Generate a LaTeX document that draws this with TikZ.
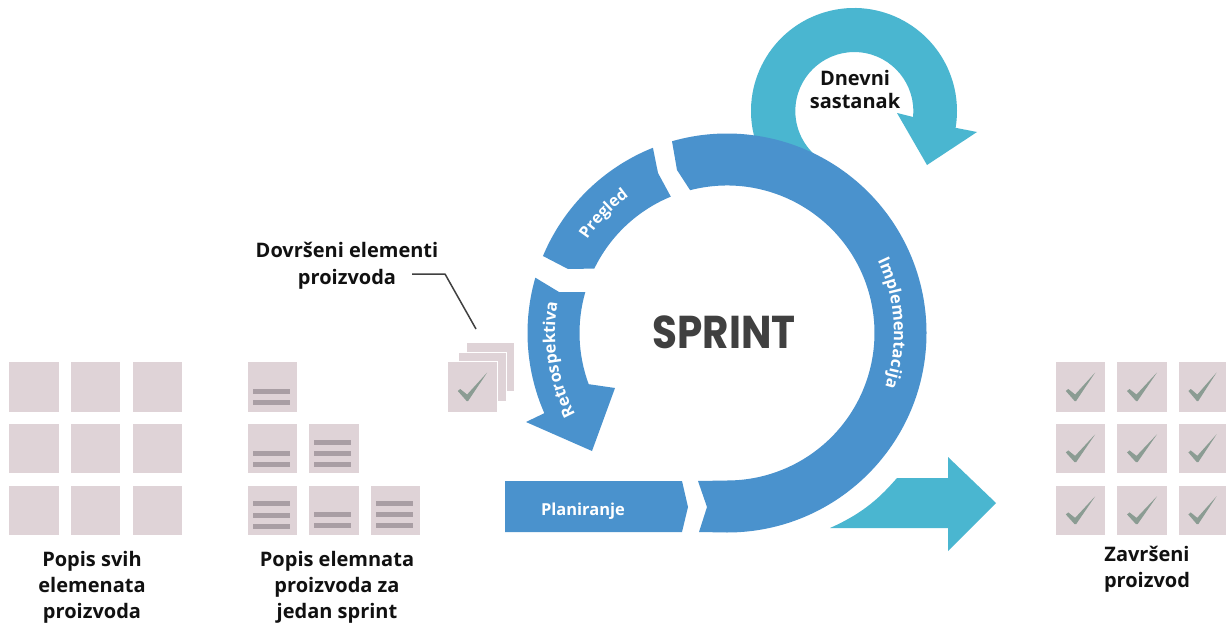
\documentclass[tikz,border=0pt]{standalone}
\usepackage{fontspec}
\setmainfont{Open Sans}
\newfontfamily\titlefont[FakeStretch=0.88]{Poppins}
\usetikzlibrary{decorations.text}
\definecolor{cardc}{HTML}{DFD3D7}
\definecolor{barc}{HTML}{A99EA4}
\definecolor{checkc}{HTML}{8B9C93}
\definecolor{bandc}{HTML}{4A92CD}
\definecolor{tealc}{HTML}{4AB6D0}
\definecolor{inkc}{HTML}{111111}
\tikzset{
  x=1pt,y=-1pt,
  lbl/.style={align=center,text=inkc,font=\fontsize{20}{26}\selectfont\bfseries,inner sep=0pt},
  bandfill/.style={fill=bandc},
  tealfill/.style={fill=tealc},
  cardfill/.style={fill=cardc},
  barfill/.style={fill=barc},
  leader/.style={draw=black!75,line width=1.5pt,line join=round},
}
\newcommand{\card}[4]{\fill[cardfill] (#1,#2) rectangle ++(#3,#4);}
\newcommand{\chk}[4]{\fill[cardfill] (#1,#2) rectangle ++(#3,#4);
  \fill[checkc,shift={(#1,#2)}] (0.2*#3,0.58*#4) -- (0.25*#3,0.54*#4) -- (0.39*#3,0.65*#4)
     -- (0.8*#3,0.21*#4) -- (0.41*#3,0.78*#4) -- (0.38*#3,0.78*#4) -- cycle;}
\newcommand{\barr}[2]{\fill[barfill] (#1+5,#2) rectangle ++(37,5);}
\begin{document}
\begin{tikzpicture}
\useasboundingbox (0,0) rectangle (1226,623);
\fill[white] (0,0) rectangle (1226,623);
\coordinate (C) at (727,333);
\coordinate (T) at (854,111);

% daily loop arrow
\fill[tealfill] ([shift={(-196:103)}]T) arc[start angle=-196,end angle=9.4,radius=103]
  -- (977,132) -- (927,165) -- (897,113) -- (913,117)
  arc[start angle=5.8,end angle=-230,radius=59] -- cycle;

% output arrow
\fill[tealfill] (830,528) .. controls (866,512) and (882,495) .. (897,478) -- (948,478) -- (948,457)
  -- (996,503) -- (948,551) -- (948,528) -- cycle;

% Implementacija band
\fill[bandfill] (699,532) -- (727,532.5) arc[start angle=90,end angle=-106,radius=199.5]
  -- (677,170) -- (690,190) -- ([shift={(-104.5:147.5)}]C)
  arc[start angle=-104.5,end angle=90,radius=147.5] -- (698,481) -- (707,507) -- cycle;

% Pregled band
\fill[bandfill] ([shift={(-111.8:199.5)}]C) arc[start angle=-111.8,end angle=-157.3,radius=199.5]
  -- (568,269) -- ([shift={(-154.1:147.5)}]C) arc[start angle=-154.1,end angle=-112.4,radius=147.5]
  -- (658,173) -- cycle;

% Retrospektiva band
\fill[bandfill] ([shift={(-163.9:199.5)}]C) arc[start angle=-163.9,end angle=-203.7,radius=199.5]
  -- (526,422) -- (592,451) -- (615,388) -- ([shift={(-200.3:147.5)}]C)
  arc[start angle=-200.3,end angle=-163.9,radius=147.5] -- (559,292) -- cycle;

% Planiranje
\fill[bandfill] (505,481) -- (682,481) -- (688,507) -- (682,532) -- (505,532) -- cycle;

% band labels
\path[decorate,decoration={text along path,text align=center,
   text={|\fontsize{16.5}{16.5}\selectfont\bfseries\color{white}|Implementacija}}]
   ([shift={(-30:167)}]C) arc[start angle=-30,end angle=23,radius=167];
\path[decorate,decoration={text along path,text align=center,
   text={|\fontsize{16}{16}\selectfont\bfseries\color{white}|Pregled}}]
   ([shift={(-152:168)}]C) arc[start angle=-152,end angle=-120,radius=168];
\path[decorate,decoration={text along path,text align=center,
   text={|\fontsize{16.5}{16.5}\selectfont\bfseries\color{white}|Retrospektiva}}]
   ([shift={(-213:172)}]C) arc[start angle=-213,end angle=-165,radius=172];
\node[inner sep=0pt,text=white,font=\fontsize{16.5}{16.5}\selectfont\bfseries] (plan) at (583,511) {Planiranje};

% titles
\node[inner sep=0pt,text=black!75,font=\titlefont\fontsize{46}{46}\selectfont\bfseries] (sprint) at (724,332) {SPRINT};
\node[lbl,font=\fontsize{20}{23}\selectfont\bfseries] (daily) at (855,90) {Dnevni\\sastanak};
\node[lbl,font=\fontsize{20}{27}\selectfont\bfseries] (done) at (347,266) {Dovršeni elementi\\proizvoda};
\node[lbl] (all) at (92,587) {Popis svih\\elemenata\\proizvoda};
\node[lbl] (sel) at (337,587) {Popis elemnata\\proizvoda za\\jedan sprint};
\node[lbl] (fin) at (1147,569) {Završeni\\proizvod};

% left grid
\foreach \x/\w in {9/50,71/49,133/49}
  \foreach \y/\h in {362/50,424/49,486/49}
    {\card{\x}{\y}{\w}{\h}}

% sprint backlog grid
\card{248}{362}{49}{50}
\card{248}{424}{49}{49}
\card{309}{424}{50}{49}
\card{248}{486}{49}{49}
\card{309}{486}{50}{49}
\card{371}{486}{49}{49}
\barr{248}{389}\barr{248}{400}
\barr{248}{451}\barr{248}{462}
\barr{309}{440}\barr{309}{451}\barr{309}{462}
\barr{248}{501}\barr{248}{513}\barr{248}{524}
\barr{309}{512}\barr{309}{523}
\barr{371}{501}\barr{371}{512}\barr{371}{523}

% finished grid
\foreach \x/\w in {1056/49,1117/50,1179/47}
  \foreach \y/\h in {362/50,424/49,486/49}
    {\chk{\x}{\y}{\w}{\h}}

% increment stack
\coordinate (stackend) at (476,329);
\coordinate (leaderbend) at (445,274);
\coordinate (leaderstart) at (412,274);
\fill[cardfill,draw=white,line width=0.8pt] (466,342) rectangle ++(48,49);
\fill[cardfill,draw=white,line width=0.8pt] (458,352) rectangle ++(48,49);
\fill[white] (447,361) rectangle ++(51,52);
\chk{448}{362}{49}{50}
\draw[leader] (leaderstart) -- (leaderbend) -- (stackend);
\end{tikzpicture}
\end{document}
